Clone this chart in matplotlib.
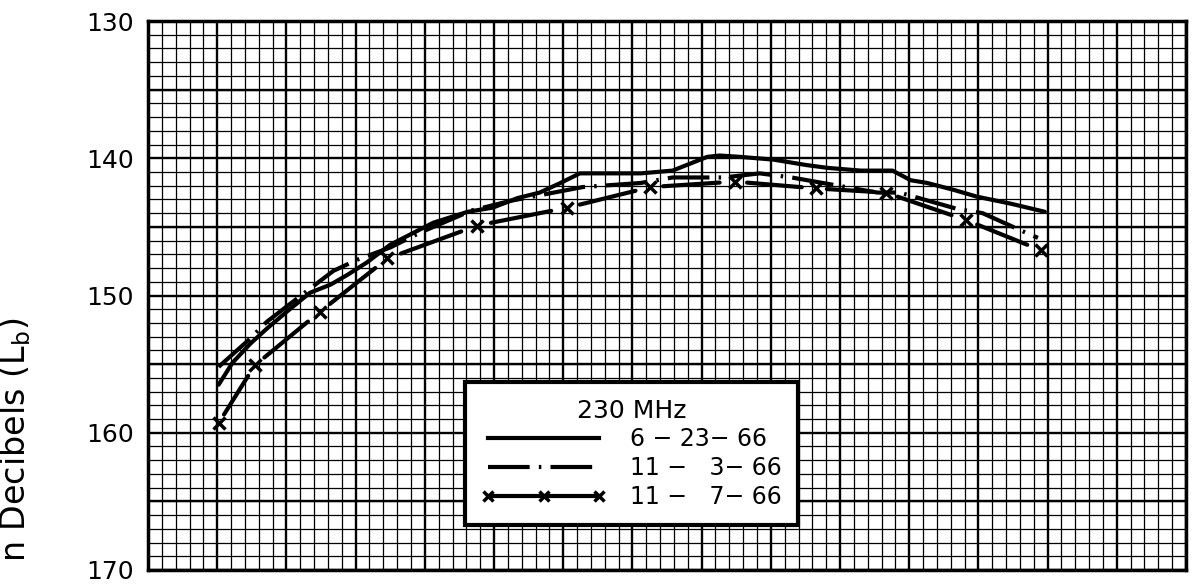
import numpy as np
import matplotlib
matplotlib.use("Agg")
import matplotlib.pyplot as plt
from matplotlib.lines import Line2D
from matplotlib.ticker import MultipleLocator

# Grid-paper abscissa (no labels on the original), ordinate = loss in dB
x_6_23 = [5.1, 6.1, 7.4, 8.6, 10.0, 11.7, 13.2, 14.4, 15.8, 17.5, 20.6, 23.1, 24.9,
          26.7, 28.3, 29.8, 31.2, 32.7, 35.6, 37.9, 40.4, 41.3, 42.8, 45.2, 47.6,
          49.1, 51.5, 53.8, 55.1, 56.3, 58.2, 59.9, 62.3, 64.8]
loss_6_23 = [156.5, 154.9, 153.5, 152.4, 151.2, 149.8, 149.2, 148.5, 147.6, 146.3,
             144.7, 143.9, 143.6, 142.9, 142.5, 141.8, 141.1, 141.1, 141.1, 140.9,
             139.9, 139.8, 139.9, 140.1, 140.5, 140.7, 140.9, 140.9, 141.6, 141.8,
             142.3, 142.8, 143.3, 143.9]

x_11_3 = [5.1, 7.2, 8.6, 11.7, 13.4, 15.1, 17.5, 19.7, 23.4, 26.2, 31.4, 35.6, 37.9,
          41.6, 44.2, 46.5, 52.7, 54.3, 58.5, 60.3, 63.6, 64.3]
loss_11_3 = [155.2, 153.3, 151.9, 149.5, 148.2, 147.4, 146.5, 145.4, 143.8, 143.1,
             142.1, 141.8, 141.4, 141.4, 141.1, 141.4, 142.5, 142.5, 143.7, 144.0,
             145.5, 145.8]

x_11_7 = [5.1, 7.7, 12.4, 17.3, 23.8, 30.3, 36.3, 42.4, 48.3, 53.3, 59.1, 64.5]
loss_11_7 = [159.3, 155.1, 151.2, 147.3, 144.9, 143.6, 142.1, 141.7, 142.2, 142.5,
             144.5, 146.7]

labels = ["6 \u2212 23\u2212 66", "11 \u2212   3\u2212 66", "11 \u2212   7\u2212 66"]
y_ticks = [130, 140, 150, 160, 170]

fig = plt.figure(figsize=(11.94, 5.84), dpi=100)
ax = fig.add_axes([0.124, 0.024, 0.8693, 0.940])

# graph paper: 1-unit squares, heavier every 5
ax.set_xlim(0, 75)
ax.set_ylim(170, 130)
ax.xaxis.set_major_locator(MultipleLocator(5))
ax.xaxis.set_minor_locator(MultipleLocator(1))
ax.set_yticks(y_ticks)
ax.yaxis.set_minor_locator(MultipleLocator(1))
ax.grid(True, which="minor", color="black", linewidth=0.9)
ax.grid(True, which="major", color="black", linewidth=1.7)
for v in np.arange(135, 170, 10):
    ax.axhline(v, color="black", linewidth=1.7, zorder=0.5)
ax.set_axisbelow(True)
for spine in ax.spines.values():
    spine.set_linewidth(2.5)
ax.tick_params(axis="both", which="both", length=0)
ax.set_xticklabels([])
ax.set_yticklabels([str(v) for v in y_ticks],
                   fontdict={"family": ["Liberation Sans Narrow", "DejaVu Sans"], "size": 18})
ax.tick_params(axis="y", which="major", pad=10)

# curves
ax.plot(x_6_23, loss_6_23, color="black", linewidth=3, solid_capstyle="round")
ax.plot(x_11_3, loss_11_3, color="black", linewidth=3,
        linestyle=(0, (10, 2.2, 0.6, 2.2)))
xs = np.array(x_11_7)
ys = np.array(loss_11_7)
for i in range(len(xs) - 1):
    a, b = 0.15, 0.82
    ax.plot([xs[i] + a * (xs[i + 1] - xs[i]), xs[i] + b * (xs[i + 1] - xs[i])],
            [ys[i] + a * (ys[i + 1] - ys[i]), ys[i] + b * (ys[i + 1] - ys[i])],
            color="black", linewidth=3, solid_capstyle="round")
ax.plot(xs, ys, linestyle="none", marker="x", color="black", markersize=8, markeredgewidth=2.5)

# legend box
handles = [
    Line2D([], [], color="black", linewidth=3),
    Line2D([], [], color="black", linewidth=3, linestyle=(0, (10, 2.2, 0.6, 2.2))),
    Line2D([], [], color="black", linewidth=3, marker="x", markersize=7, markeredgewidth=2.5),
]
leg = ax.legend(handles, labels, title="230 MHz", loc="upper left",
                bbox_to_anchor=(0.305, 0.342), borderaxespad=0, fancybox=False,
                framealpha=1, edgecolor="black", numpoints=3, handlelength=5.3,
                handletextpad=1.0, labelspacing=0.2, borderpad=0.7,
                prop={"size": 17}, title_fontsize=18)
leg.get_frame().set_linewidth(3)
leg.set_zorder(5)

# axis title: only its lower half shows on the original scan
fig.text(0.013, 1 - 318 / 584, "n Decibels (L$_\\mathrm{b}$)",
         rotation=90, ha="center", va="top", fontsize=24)

fig.savefig("out.png", dpi=100, facecolor="white")
